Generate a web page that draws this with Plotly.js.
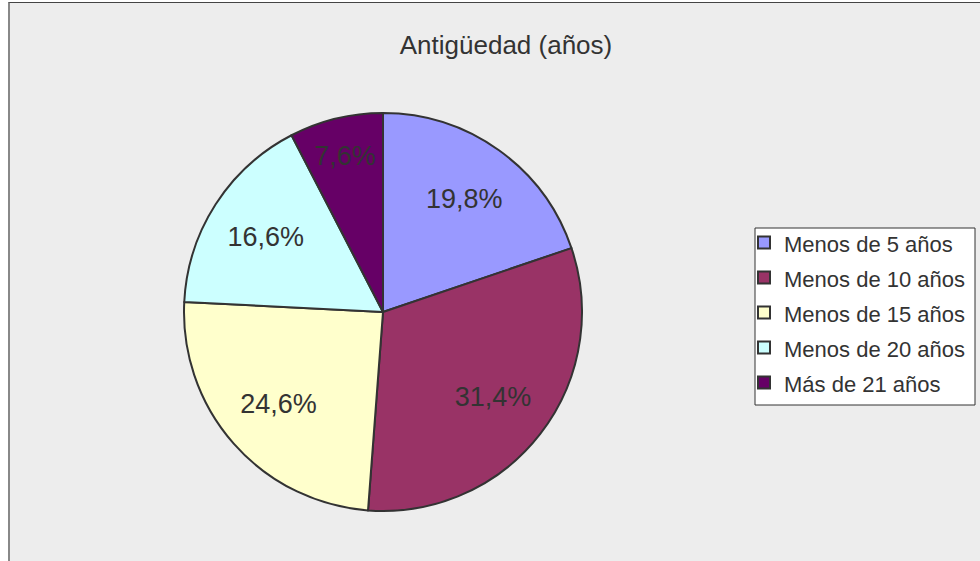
<!DOCTYPE html>
<html><head><meta charset="utf-8">
<script src="https://cdn.plot.ly/plotly-3.0.1.min.js"></script>
<style>
html,body{margin:0;padding:0;background:#fff;width:980px;height:561px;overflow:hidden;}
#chart{position:absolute;left:8px;top:2px;width:972px;height:559px;border-top:1px solid #444;border-left:2px solid #888;box-sizing:border-box;background:#ededed;}
</style></head>
<body><div id="chart"></div>
<script>
const categories = ["Menos de 5 años","Menos de 10 años","Menos de 15 años","Menos de 20 años","Más de 21 años"];
const values = [19.8, 31.4, 24.6, 16.6, 7.6];
const colors = ["#9999ff","#993366","#ffffcc","#ccffff","#660066"];
const titleText = "Antigüedad (años)";

const W = 970, H = 558;
const px = p => (p - 10) / W;          // page x -> paper fraction
const py = p => 1 - (p - 3) / H;       // page y -> paper fraction
const cx = 383, cy = 312, r = 199;
const domain = {x: [px(cx - r), px(cx + r)], y: [py(cy + r), py(cy - r)]};
const labels = categories.map(c => '<span style="font-size:22px">' + c + '</span>');
const texts = values.map(v => v.toFixed(1).replace('.', ',') + '%');
const font = 'Liberation Sans, Arial, sans-serif';

// Filled slices + legend
const slices = {
  type: 'pie',
  labels: labels,
  values: values,
  textinfo: 'none',
  sort: false,
  direction: 'clockwise',
  rotation: 0,
  marker: {colors: colors, line: {color: '#333333', width: 2}},
  domain: domain,
  hoverinfo: 'label+percent'
};

// Same slices, transparent ring, only used to place the percentage labels a bit further out
const labelRing = {
  type: 'pie',
  labels: labels,
  values: values,
  text: texts,
  texttemplate: '%{text}',
  textinfo: 'text',
  textposition: 'inside',
  insidetextorientation: 'horizontal',
  textfont: {family: font, size: 27, color: '#333333'},
  insidetextfont: {family: font, size: 27, color: '#333333'},
  sort: false,
  direction: 'clockwise',
  rotation: 0,
  hole: 0.4,
  showlegend: false,
  marker: {colors: values.map(() => 'rgba(0,0,0,0)'), line: {width: 0}},
  domain: domain,
  hoverinfo: 'skip'
};

const layout = {
  width: W, height: H,
  margin: {l: 0, r: 0, t: 0, b: 0},
  paper_bgcolor: '#ededed',
  font: {family: font, color: '#333333'},
  title: {text: titleText, x: px(506), xanchor: 'center', y: py(45), yanchor: 'middle',
          font: {size: 26, color: '#333333'}},
  showlegend: true,
  shapes: [{type: 'rect', xref: 'paper', yref: 'paper', layer: 'below',
            x0: px(755), x1: px(975), y0: py(405), y1: py(228),
            fillcolor: '#ffffff', line: {color: '#333333', width: 1}}],
  legend: {
    x: px(744), xanchor: 'left', y: py(220), yanchor: 'top',
    bgcolor: 'rgba(0,0,0,0)', borderwidth: 0,
    font: {size: 24.6, color: '#333333'}, traceorder: 'normal'
  }
};

Plotly.newPlot('chart', [slices, labelRing], layout, {displayModeBar: false, staticPlot: true});
</script></body></html>
